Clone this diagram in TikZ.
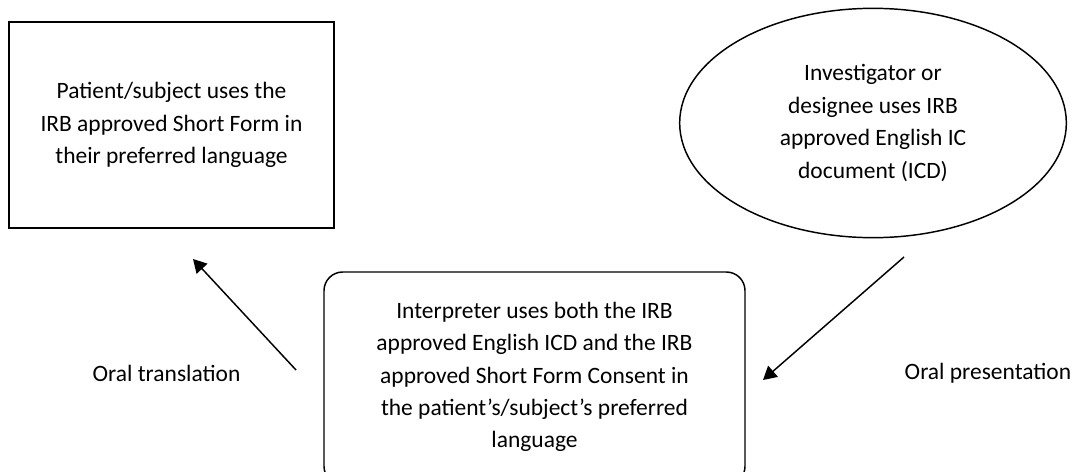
\documentclass[tikz,border=0pt]{standalone}
\usepackage{fontspec}
\setmainfont{Carlito}
\usetikzlibrary{arrows.meta,shapes.geometric}
\begin{document}
\begin{tikzpicture}[x=0.75pt,y=-0.75pt,
  txt/.style={font=\fontsize{17.6}{24.3}\selectfont,align=center,text=black},
  shapeline/.style={draw=black,line width=1.1pt},
  conn/.style={line width=1.1pt,-{Triangle[length=10pt,width=11pt]}}]
\useasboundingbox (0,0) rectangle (1073,471);
\node[shapeline,txt,minimum width=243.75pt,minimum height=154.5pt,inner sep=0pt] (patient) at (171.5,125)
  {Patient/subject uses the\\IRB approved Short Form in\\their preferred language};
\node[shapeline,txt,ellipse,minimum width=290pt,minimum height=172pt,inner sep=0pt] (inv) at (873,123)
  {Investigator or\\designee uses IRB\\approved English IC\\document (ICD)};
\node[shapeline,rounded corners=14pt,minimum width=315.75pt,minimum height=159.75pt,inner sep=0pt] (interp) at (534.5,378.5) {};
\node[txt,inner sep=0pt] (interptext) at (534.5,377)
  {Interpreter uses both the IRB\\approved English ICD and the IRB\\approved Short Form Consent in\\the patient’s/subject’s preferred\\language};
\coordinate (a1s) at (296,370);
\coordinate (a1e) at (193,259);
\coordinate (a2s) at (904,257);
\coordinate (a2e) at (763,380);
\draw[conn] (a1s) -- (a1e);
\draw[conn] (a2s) -- (a2e);
\node[txt,anchor=west] (l1) at (88,373) {Oral translation};
\node[txt,anchor=west] (l2) at (900,373) {Oral presentation};
\end{tikzpicture}
\end{document}
